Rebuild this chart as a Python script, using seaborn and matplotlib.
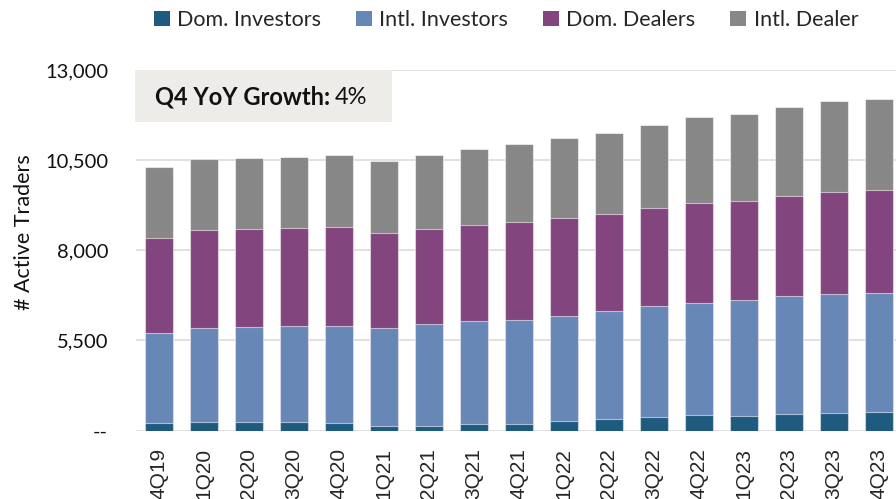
import pandas as pd
import seaborn as sns
import matplotlib.pyplot as plt
from matplotlib.patches import Patch, Rectangle

# quarters on the x axis
quarters = ['4Q19', '1Q20', '2Q20', '3Q20', '4Q20', '1Q21', '2Q21', '3Q21', '4Q21',
            '1Q22', '2Q22', '3Q22', '4Q22', '1Q23', '2Q23', '3Q23', '4Q23']

# segment values (axis starts at 3,000, so the bottom segment is mostly hidden)
dom_investors = [3200, 3245, 3235, 3230, 3215, 3135, 3135, 3190, 3190,
                 3265, 3320, 3385, 3440, 3410, 3465, 3495, 3520]
intl_investors = [2500, 2595, 2640, 2675, 2695, 2705, 2825, 2855, 2880,
                  2910, 3000, 3065, 3110, 3215, 3260, 3290, 3305]
dom_dealers = [2650, 2710, 2705, 2700, 2735, 2630, 2620, 2665, 2705,
               2710, 2675, 2710, 2750, 2730, 2770, 2835, 2835]
intl_dealer = [1950, 1990, 1990, 1985, 2010, 2010, 2075, 2105, 2185,
               2240, 2260, 2325, 2390, 2435, 2490, 2510, 2530]

series_names = ['Dom. Investors', 'Intl. Investors', 'Dom. Dealers', 'Intl. Dealer']
series_colors = ['#1F5B7E', '#6787B7', '#83457D', '#878787']
yticks = [3000, 5500, 8000, 10500, 13000]
ytick_labels = ['--', '5,500', '8,000', '10,500', '13,000']
growth_label = 'Q4 YoY Growth:'
growth_value = '4%'

df = pd.DataFrame({
    'quarter': quarters,
    'Dom. Investors': dom_investors,
    'Intl. Investors': intl_investors,
    'Dom. Dealers': dom_dealers,
    'Intl. Dealer': intl_dealer,
})

# cumulative tops for stacking
cum = df[series_names].cumsum(axis=1)

sns.set_style('white')
plt.rcParams['font.family'] = ['Lato', 'DejaVu Sans']

fig = plt.figure(figsize=(8.96, 4.99), dpi=100)
ax = fig.add_axes([136 / 896, 1 - 430.5 / 499, 760 / 896, 360.5 / 499])

ax.set_axisbelow(True)
ax.yaxis.grid(True, color='#D9D9D9', linewidth=1.1)

# draw tallest first so the lower segments sit on top
for name, color in reversed(list(zip(series_names, series_colors))):
    sns.barplot(x=df['quarter'], y=cum[name], color=color, width=0.62,
                edgecolor=(1, 1, 1, 0.55), linewidth=0.8, saturation=1, ax=ax)

ax.set_ylim(3000, 13000)
ax.set_xlim(-0.51, len(quarters) - 1 + 0.38)
ax.set_yticks(yticks)
ax.set_yticklabels(ytick_labels, fontsize=14.5, color='#111111')
ax.tick_params(axis='y', length=6, color='#D9D9D9', width=1.1, pad=14)
ax.tick_params(axis='x', length=0, pad=12.5)
for lbl in ax.get_xticklabels():
    lbl.set_rotation(90)
    lbl.set_fontsize(15)
    lbl.set_family(['Liberation Sans', 'DejaVu Sans'])
    lbl.set_va('top')
for s in ax.spines.values():
    s.set_visible(False)

ax.set_xlabel('')
ax.set_ylabel('# Active Traders', fontsize=15.5, color='#111111')
ax.yaxis.set_label_coords(-0.134, 0.55)

# growth callout box
fig.patches.append(Rectangle((135 / 896, 1 - 122 / 499), 257 / 896, 52 / 499,
                             transform=fig.transFigure, facecolor='#EDECE8',
                             edgecolor='none', zorder=5))
t1 = fig.text(155 / 896, 1 - 97 / 499, growth_label, fontsize=17, fontweight='bold',
              va='center', ha='left', color='#111111', zorder=6)
renderer = fig.canvas.get_renderer()
bb = t1.get_window_extent(renderer=renderer)
fig.text(bb.x1 / fig.bbox.width + 5 / 896, 1 - 97 / 499, growth_value, fontsize=17,
         va='center', ha='left', color='#111111', zorder=6)

handles = [Patch(facecolor=c, edgecolor='none', label=n)
           for n, c in zip(series_names, series_colors)]
fig.legend(handles=handles, loc='center', bbox_to_anchor=(506 / 896, 1 - 20 / 499),
           ncol=4, frameon=False, fontsize=15.5, handlelength=0.75, handleheight=0.75,
           handletextpad=0.35, columnspacing=1.6)

fig.savefig('out.png', dpi=100)
